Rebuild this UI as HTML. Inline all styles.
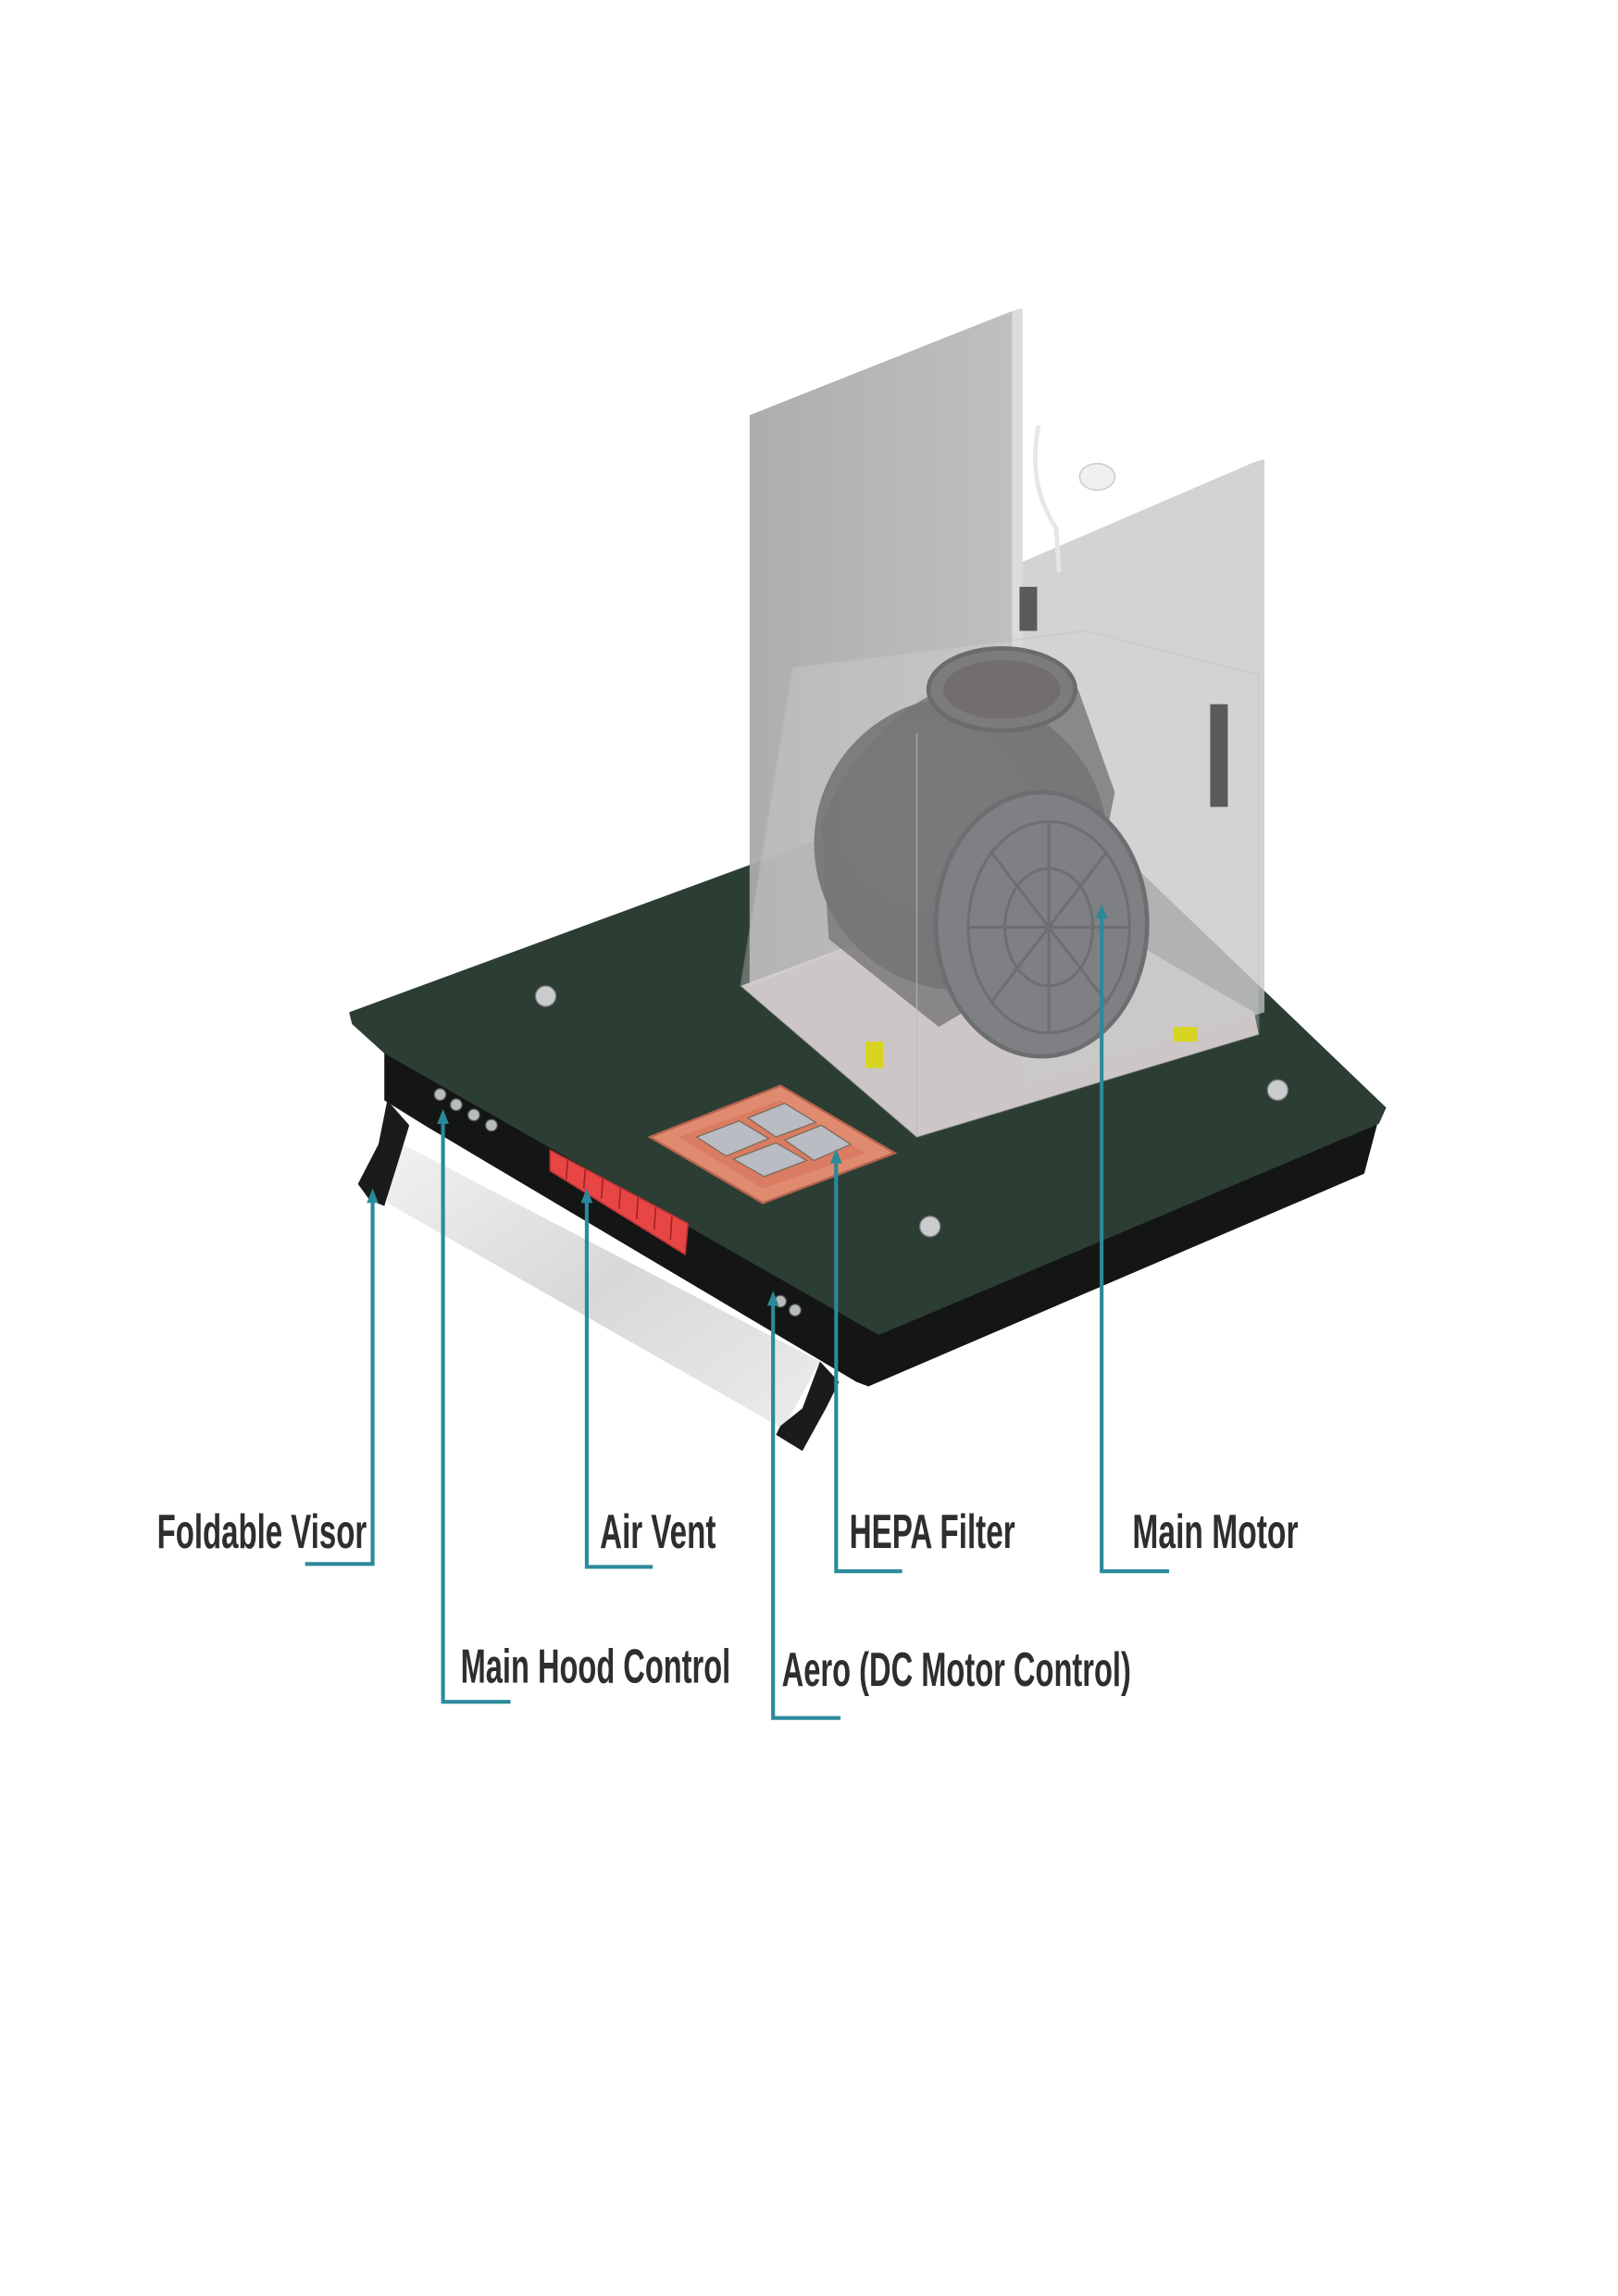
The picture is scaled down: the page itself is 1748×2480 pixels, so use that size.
<!DOCTYPE html>
<html><head><meta charset="utf-8"><style>
html,body{margin:0;padding:0;background:#fff;}
svg{display:block;}
text{font-family:"Liberation Sans Narrow","Liberation Sans",sans-serif;font-weight:bold;fill:#2e2e2e;font-size:33px;}
</style></head><body>
<svg width="1748" height="2480" viewBox="0 0 1103 1565" preserveAspectRatio="none">
<defs>
<linearGradient id="vis" x1="0" y1="0" x2="1" y2="1"><stop offset="0" stop-color="#f2f2f2"/><stop offset="0.5" stop-color="#d8d8d8"/><stop offset="1" stop-color="#ececec"/></linearGradient>
<linearGradient id="bp" x1="0" y1="0" x2="1" y2="0"><stop offset="0" stop-color="#a9a9a9"/><stop offset="1" stop-color="#bdbdbd"/></linearGradient>
<radialGradient id="mot" cx="0.4" cy="0.4" r="0.7"><stop offset="0" stop-color="#5d5d60"/><stop offset="1" stop-color="#3e3f43"/></radialGradient>
</defs>
<!-- black body -->
<polygon points="262,712 599,905 940,762 930,800 592,945 584,942 291,768 262,750" fill="#141616"/>
<!-- board -->
<polygon points="238,690 700,520 945,755 940,766 599,910 262,718 240,698" fill="#2c3d34"/>
<!-- visor -->
<polygon points="267,776 559,928 534,974 264,820" fill="url(#vis)"/>
<!-- handles -->
<polygon points="264,750 279,767 272,790 262,822 252,818 244,807 258,780" fill="#1b1b1b"/>
<polygon points="559,928 572,942 563,960 547,989 529,978 532,972 547,960" fill="#1b1b1b"/>
<!-- buttons -->
<g fill="#b9bcbc" stroke="#555" stroke-width="0.8">
<circle cx="300" cy="746" r="4"/><circle cx="311" cy="753" r="4"/><circle cx="323" cy="760" r="4"/><circle cx="335" cy="767" r="4"/>
<circle cx="532" cy="887" r="4"/><circle cx="542" cy="893" r="4"/>
</g>
<!-- air vent -->
<polygon points="375,784 469,834 467,855 375,798" fill="#e84545" stroke="#b33" stroke-width="1"/>
<g stroke="#a52020" stroke-width="1"><line x1="387" y1="791" x2="386" y2="804"/><line x1="399" y1="797" x2="398" y2="810"/><line x1="411" y1="803" x2="410" y2="817"/><line x1="423" y1="810" x2="422" y2="824"/><line x1="435" y1="816" x2="434" y2="831"/><line x1="447" y1="823" x2="446" y2="838"/><line x1="458" y1="829" x2="457" y2="845"/></g>
<!-- HEPA filter -->
<polygon points="443,775 532,740 610,786 520,820" fill="#e08a70" stroke="#b5634e" stroke-width="1.5"/>
<polygon points="463,775 532,750 590,786 520,810" fill="#d97c62"/>
<g fill="#b9bcc2" stroke="#7d6a5a" stroke-width="0.8">
<polygon points="475,775 504,764 524,776 495,788"/>
<polygon points="510,762 535,752 556,765 529,775"/>
<polygon points="500,790 529,779 550,791 521,802"/>
<polygon points="535,777 560,767 580,780 555,791"/>
</g>
<!-- screws -->
<g fill="#c8cccc" stroke="#777" stroke-width="0.8">
<circle cx="372" cy="679" r="7"/><circle cx="634" cy="836" r="7"/><circle cx="871" cy="743" r="7"/>
</g>
<!-- back panel -->
<polygon points="511,283 690,212 697,212 697,600 511,672" fill="url(#bp)" opacity="0.95"/>
<polygon points="690,212 697,210 697,600 690,603" fill="#dcdcdc"/>
<!-- glass box floor -->
<polygon points="505,672 625,775 858,705 855,690 700,600" fill="#d9cdd0" opacity="0.9"/>
<!-- right panel -->
<polygon points="697,383 855,315 862,313 862,690 697,740" fill="#c4c4c4" opacity="0.75"/>
<!-- motor -->
<ellipse cx="655" cy="575" rx="100" ry="100" fill="url(#mot)"/>
<path d="M560,560 Q600,470 680,460 L735,470 L760,540 L740,640 L640,700 L565,640 Z" fill="#454447" opacity="0.8"/>
<ellipse cx="683" cy="470" rx="50" ry="28" fill="#4d4d52" stroke="#333336" stroke-width="3"/>
<ellipse cx="683" cy="470" rx="40" ry="20" fill="#3f3837"/>
<ellipse cx="710" cy="630" rx="72" ry="90" fill="#525358" stroke="#36373b" stroke-width="3"/>
<g stroke="#38393d" stroke-width="2" fill="none">
<ellipse cx="715" cy="632" rx="55" ry="72"/><ellipse cx="715" cy="632" rx="30" ry="40"/>
<line x1="715" y1="560" x2="715" y2="704"/><line x1="660" y1="632" x2="770" y2="632"/>
<line x1="675" y1="580" x2="755" y2="684"/><line x1="755" y1="580" x2="675" y2="684"/>
</g>
<!-- glass box -->
<polygon points="505,672 625,775 858,705 858,460 740,430 540,455" fill="#d4d4d4" opacity="0.35" stroke="#bcbcbc" stroke-width="1"/>
<line x1="625" y1="775" x2="625" y2="500" stroke="#bcbcbc" stroke-width="1" opacity="0.6"/>
<!-- brackets -->
<rect x="825" y="480" width="12" height="70" fill="#3c3c3c" opacity="0.8"/>
<rect x="695" y="400" width="12" height="30" fill="#3c3c3c" opacity="0.8"/>
<rect x="590" y="710" width="12" height="18" fill="#d7d520"/>
<rect x="800" y="700" width="16" height="10" fill="#d7d520"/>
<!-- cord -->
<path d="M708,290 Q700,330 720,360 L722,390" stroke="#e6e6e6" stroke-width="3" fill="none"/>
<ellipse cx="748" cy="325" rx="12" ry="9" fill="#f0f0f0" stroke="#ccc"/>
<!-- callouts -->
<g stroke="#2b8a9a" stroke-width="2.6" fill="none">
<polyline points="254,814 254,1066 208,1066"/>
<polyline points="302,760 302,1160 348,1160"/>
<polyline points="400,814 400,1068 445,1068"/>
<polyline points="570,787 570,1071 615,1071"/>
<polyline points="751,620 751,1071 797,1071"/>
<polyline points="527,884 527,1171 573,1171"/>
</g>
<g fill="#2b8a9a">
<polygon points="254,810 250,820 258,820"/>
<polygon points="302,756 298,766 306,766"/>
<polygon points="400,810 396,820 404,820"/>
<polygon points="570,783 566,793 574,793"/>
<polygon points="751,616 747,626 755,626"/>
<polygon points="527,880 523,890 531,890"/>
</g>
<text x="107" y="1055" textLength="143" lengthAdjust="spacingAndGlyphs">Foldable Visor</text>
<text x="409" y="1055" textLength="79" lengthAdjust="spacingAndGlyphs">Air Vent</text>
<text x="579" y="1055" textLength="113" lengthAdjust="spacingAndGlyphs">HEPA Filter</text>
<text x="772" y="1055" textLength="113" lengthAdjust="spacingAndGlyphs">Main Motor</text>
<text x="314" y="1147" textLength="184" lengthAdjust="spacingAndGlyphs">Main Hood Control</text>
<text x="533" y="1149" textLength="238" lengthAdjust="spacingAndGlyphs">Aero (DC Motor Control)</text>
</svg>
</body></html>
